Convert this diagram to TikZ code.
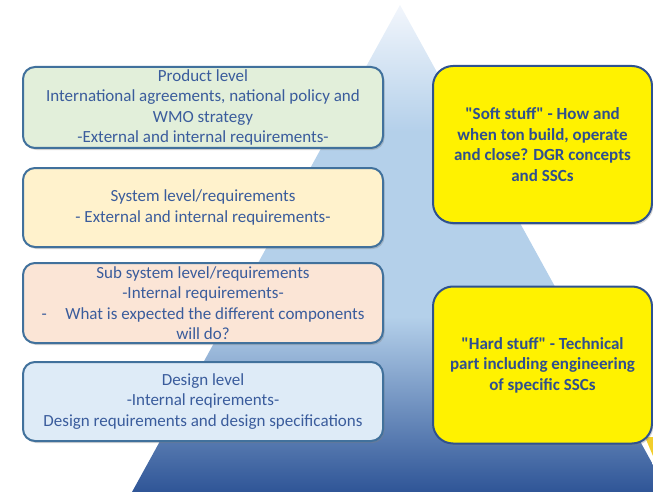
\documentclass[tikz,border=0pt]{standalone}
\usepackage{fontspec}
\setmainfont{Carlito}
\usetikzlibrary{shadows}

\definecolor{pktop}{HTML}{F2F6FC}
\definecolor{pkmid}{HTML}{B4D0EA}
\definecolor{pkdark}{HTML}{2F5597}
\definecolor{lvline}{HTML}{41719C}
\definecolor{lvtext}{HTML}{3A5C9C}
\definecolor{lvgreen}{HTML}{E2EFDA}
\definecolor{lvcream}{HTML}{FFF2CC}
\definecolor{lvsalmon}{HTML}{FBE5D6}
\definecolor{lvblue}{HTML}{DEEBF7}
\definecolor{stline}{HTML}{2F528F}
\definecolor{sttext}{HTML}{2F4F8F}
\definecolor{stgold}{HTML}{F2CE2C}

% pyramid colour: white tip, flat light blue, dark base
\pgfdeclareverticalshading{peakshade}{100bp}{color(0bp)=(pkdark); color(25bp)=(pkdark); color(43bp)=(pkmid); color(62bp)=(pkmid); color(75bp)=(pktop); color(100bp)=(pktop)}

\tikzset{
  levelbox/.style={draw=lvline, line width=2pt, rounded corners=12pt, text=lvtext, align=center,
    minimum width=360pt, inner sep=2pt, font=\fontsize{17}{20.5}\selectfont,
    drop shadow={opacity=0.35, shadow xshift=1.5pt, shadow yshift=-2pt}},
  stuffbox/.style={draw=stline, line width=2pt, rounded corners=20pt, fill=yellow, text=sttext, align=center,
    minimum width=219pt, minimum height=157pt, font=\fontsize{17}{20.5}\selectfont\bfseries,
    drop shadow={opacity=0.35, shadow xshift=1.5pt, shadow yshift=-2pt}}
}

\begin{document}
\begin{tikzpicture}[x=1pt,y=-1pt]
	\useasboundingbox (0,0) rectangle (653,492);

		% Pyramid in the background
		\shade[shading=peakshade] (400,5) -- (668,492) -- (132,492) -- cycle;

		% Yellow corner peeking out bottom right
		\fill[stgold] (645,437) -- (653,437) -- (653,456) -- cycle;

		% Levels on the left
		\node[levelbox, fill=lvgreen, minimum height=81pt] (product) at (203,107.5)
			{Product level\\International agreements, national policy and\\WMO strategy\\-External and internal requirements-};
		\node[levelbox, fill=lvcream, minimum height=79pt] (system) at (203,207.5)
			{System level/requirements\\- External and internal requirements-};
		\node[levelbox, fill=lvsalmon, minimum height=80pt] (subsystem) at (203,303)
			{Sub system level/requirements\\-Internal requirements-\\-\hspace{1.1em}What is expected the different components\\will do?};
		\node[levelbox, fill=lvblue, minimum height=79pt] (design) at (203,401.5)
			{Design level\\-Internal reqirements-\\Design requirements and design specifications};

		% Soft and hard stuff on the right
		\node[stuffbox] (soft) at (542.5,144.5)
			{\textquotedbl Soft stuff\textquotedbl{} - How and\\when ton build, operate\\and close? DGR concepts\\and SSCs};
		\node[stuffbox] (hard) at (542.5,365)
			{\textquotedbl Hard stuff\textquotedbl{} - Technical\\part including engineering\\of specific SSCs};
	\end{tikzpicture}
\end{document}
